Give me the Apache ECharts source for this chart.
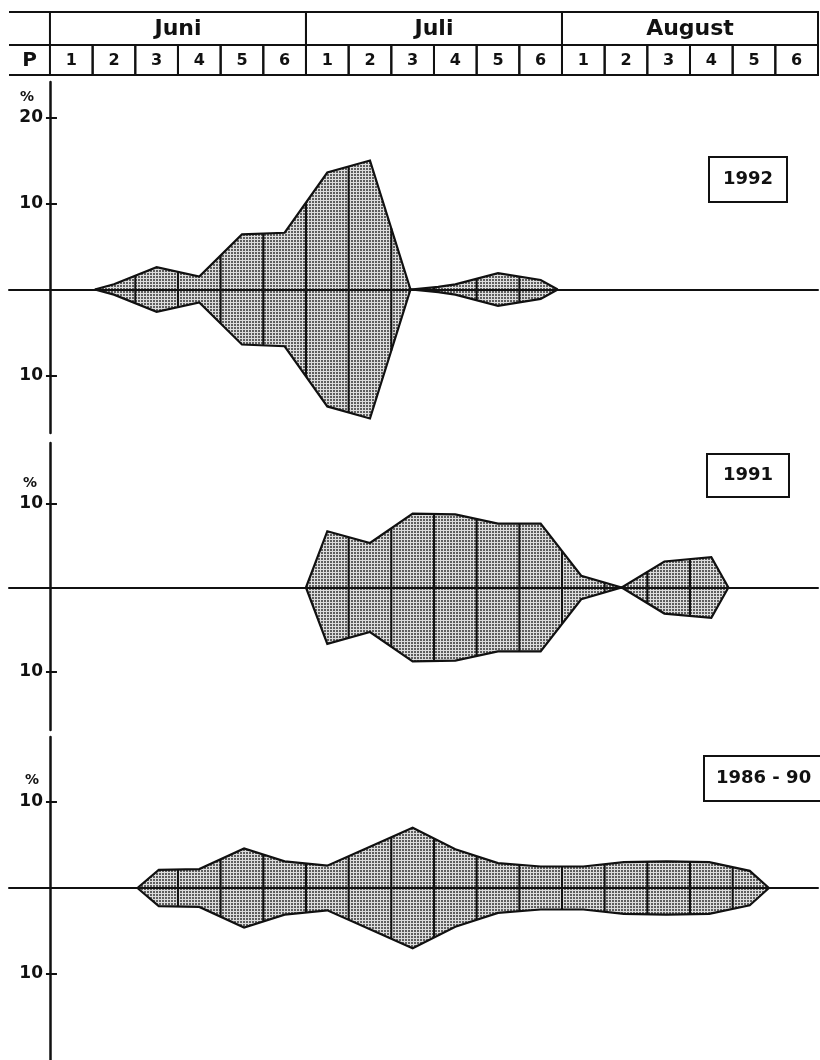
<!DOCTYPE html>
<html><head><meta charset="utf-8">
<script src="https://cdn.jsdelivr.net/npm/echarts@6/dist/echarts.min.js"></script>
<style>html,body{margin:0;padding:0;background:#fff}#c{width:820px;height:1060px}</style>
</head><body><div id="c"></div>
<script>
// ---------- data ----------
const months = ['Juni', 'Juli', 'August'];
const pentads = ['1', '2', '3', '4', '5', '6'];
const rowLabel = 'P';
const unitLabel = '%';
const panelTitles = ['1992', '1991', '1986 - 90'];

// x = position in pentads counted from 1 June (0..18), v = share in %
const x1992 = [1.05, 1.5, 2.5, 3.5, 4.5, 5.5, 6.5, 7.5, 8.45, 9.1, 9.5, 10.5, 11.5, 11.9];
const v1992 = [0, 0.6, 2.6, 1.5, 6.4, 6.6, 13.6, 15.0, 0, 0.3, 0.6, 1.9, 1.1, 0];
const x1991 = [6.0, 6.5, 7.5, 8.5, 9.5, 10.5, 11.5, 12.45, 13.4, 14.4, 15.5, 15.9];
const v1991 = [0, 6.7, 5.3, 8.8, 8.7, 7.6, 7.6, 1.4, 0, 3.1, 3.6, 0];
const x8690 = [2.05, 2.55, 3.5, 4.55, 5.5, 6.5, 7.5, 8.5, 9.5, 10.5, 11.5, 12.5, 13.45, 14.45, 15.45, 16.4, 16.85];
const v8690 = [0, 2.1, 2.2, 4.6, 3.1, 2.6, 4.8, 7.0, 4.5, 2.9, 2.5, 2.5, 3.0, 3.1, 3.0, 2.0, 0];
const ticks1992 = [20, 10, -10];
const ticks1991 = [10, -10];
const ticks8690 = [10, -10];

// ---------- layout ----------
const FONT = 'DejaVu Sans';
const INK = '#111';
const L = 9, R = 2, W = 820;
const xMin = -0.96, xMax = 18;
const plotW = W - L - R;
const axisShift = (0 - xMin) / (xMax - xMin) * plotW;
const hdrTop = 2.1;

const panels = [
  { xs: x1992, vs: v1992, ticks: ticks1992, top: 82, bottom: 627, min: -16.69, max: 24.13,
    title: panelTitles[0], tl: 709, tt: 157, pad: [13, 14], pct: [27, 97] },
  { xs: x1991, vs: v1991, ticks: ticks1991, top: 443, bottom: 330, min: -16.96, max: 17.2,
    title: panelTitles[1], tl: 707, tt: 454, pad: [12, 16], pct: [30, 483] },
  { xs: x8690, vs: v8690, ticks: ticks8690, top: 737, bottom: 0, min: -20, max: 17.56,
    title: panelTitles[2], tl: 704, tt: 756, pad: [13, 20, 13, 12], pct: [32, 780] }
];

// stipple pattern
const pat = document.createElement('canvas');
pat.width = 3; pat.height = 3;
(function () {
  const c = pat.getContext('2d');
  c.fillStyle = '#dcdcdc'; c.fillRect(0, 0, 3, 3);
  c.fillStyle = '#5e5e5e'; c.fillRect(0, 0, 2, 2);
})();
const fill = { image: pat, repeat: 'repeat' };

function edgeAt(xs, vs, u) {
  if (u <= xs[0] || u >= xs[xs.length - 1]) return 0;
  for (let k = 1; k < xs.length; k++) {
    if (u <= xs[k]) {
      const t = (u - xs[k - 1]) / (xs[k] - xs[k - 1]);
      return vs[k - 1] + t * (vs[k] - vs[k - 1]);
    }
  }
  return 0;
}

// header cells
const headerCells = [];
months.forEach((m, i) => headerCells.push({ x0: i * 6, x1: i * 6 + 6, row: 1, text: m, size: 22 }));
months.forEach((m, i) => pentads.forEach((p, k) =>
  headerCells.push({ x0: i * 6 + k, x1: i * 6 + k + 1, row: 0, text: p, size: 16 })));
headerCells.push({ x0: xMin, x1: 0, row: 0, text: rowLabel, size: 20, key: true });

function txt(x, y, s, size) {
  return { type: 'text', x: x, y: y, style: { text: s, fontFamily: FONT, fontWeight: 'bold',
    fontSize: size, fill: INK, align: 'center', verticalAlign: 'middle' } };
}

function headerItem(params, api) {
  const c = headerCells[params.dataIndex];
  const ya = c.row === 1 ? 1 : 0, yb = c.row === 1 ? hdrTop : 1;
  const p0 = api.coord([c.x0, yb]), p1 = api.coord([c.x1, ya]);
  const children = [];
  if (c.key) {
    [0, 1, hdrTop].forEach(y => {
      const a = api.coord([c.x0, y]), b = api.coord([c.x1, y]);
      children.push({ type: 'line', shape: { x1: a[0], y1: a[1], x2: b[0], y2: b[1] },
        style: { stroke: INK, lineWidth: 2 } });
    });
  } else {
    children.push({ type: 'rect', shape: { x: p0[0], y: p0[1], width: p1[0] - p0[0], height: p1[1] - p0[1] },
      style: { fill: null, stroke: INK, lineWidth: 2 } });
  }
  children.push(txt((p0[0] + p1[0]) / 2, (p0[1] + p1[1]) / 2 + 1, c.text, c.size));
  return { type: 'group', children: children };
}

const grid = [{ left: L, right: R, top: 12, height: 63, outerBoundsMode: 'none' }];
const xAxis = [{ type: 'value', gridIndex: 0, min: xMin, max: xMax, show: false }];
const yAxis = [{ type: 'value', gridIndex: 0, min: 0, max: hdrTop, show: false }];
const series = [{
  type: 'custom', xAxisIndex: 0, yAxisIndex: 0, clip: false, silent: true,
  data: headerCells.map(c => [c.x0, c.row]), renderItem: headerItem
}];
const title = [];
const graphic = [];
const bounds = Array.from({ length: 17 }, (_, k) => k + 1);

panels.forEach((p, i) => {
  const gi = i + 1;
  grid.push({ left: L, right: R, top: p.top, bottom: p.bottom, outerBoundsMode: 'none' });
  xAxis.push({ type: 'value', gridIndex: gi, min: xMin, max: xMax, z: 5,
    axisLine: { show: true, onZero: true, lineStyle: { color: INK, width: 2 } },
    axisTick: { show: false }, axisLabel: { show: false }, splitLine: { show: false } });
  const yBase = { type: 'value', gridIndex: gi, position: 'left', min: p.min, max: p.max,
    offset: -axisShift, splitLine: { show: false } };
  yAxis.push(Object.assign({}, yBase, {
    axisLine: { show: true, onZero: false, lineStyle: { color: INK, width: 2.5 } },
    axisTick: { show: true, length: 4, customValues: p.ticks, lineStyle: { color: INK, width: 2 } },
    axisLabel: { show: true, customValues: p.ticks, margin: 7, color: INK, fontFamily: FONT,
      fontWeight: 'bold', fontSize: 17, formatter: v => String(Math.abs(v)) }
  }));
  yAxis.push(Object.assign({}, yBase, {
    axisLine: { show: false, onZero: false },
    axisTick: { show: true, inside: true, length: 7, customValues: p.ticks, lineStyle: { color: INK, width: 2 } },
    axisLabel: { show: false }
  }));
  const ya = 2 * i + 1;
  [1, -1].forEach(sign => series.push({
    type: 'line', xAxisIndex: gi, yAxisIndex: ya, silent: true, z: 2,
    data: p.xs.map((x, k) => [x, sign * p.vs[k]]), symbol: 'none',
    lineStyle: { color: INK, width: 2.2, join: 'miter' },
    areaStyle: { color: fill, opacity: 1 }
  }));
  series.push({
    type: 'custom', xAxisIndex: gi, yAxisIndex: ya, silent: true, z: 3,
    data: bounds.map(b => [b, 0]),
    renderItem: (params, api) => {
      const u = api.value(0);
      const h = edgeAt(p.xs, p.vs, u);
      if (h <= 0.05) return null;
      const a = api.coord([u, h]), b = api.coord([u, -h]);
      return { type: 'line', shape: { x1: a[0], y1: a[1], x2: b[0], y2: b[1] },
        style: { stroke: INK, lineWidth: 2 } };
    }
  });
  title.push({ text: p.title, left: p.tl, top: p.tt, padding: p.pad, borderColor: INK, borderWidth: 2,
    textStyle: { fontFamily: FONT, fontWeight: 'bold', fontSize: 18, lineHeight: 19, color: INK } });
  graphic.push({ type: 'text', x: p.pct[0], y: p.pct[1], style: { text: unitLabel, fontFamily: FONT,
    fontWeight: 'bold', fontSize: 14, fill: INK, align: 'center', verticalAlign: 'middle' } });
});

const chart = echarts.init(document.getElementById('c'), null, { renderer: 'canvas' });
chart.setOption({
  animation: false, backgroundColor: '#fff',
  title: title, grid: grid, xAxis: xAxis, yAxis: yAxis, series: series, graphic: graphic
});
</script>
</body></html>
